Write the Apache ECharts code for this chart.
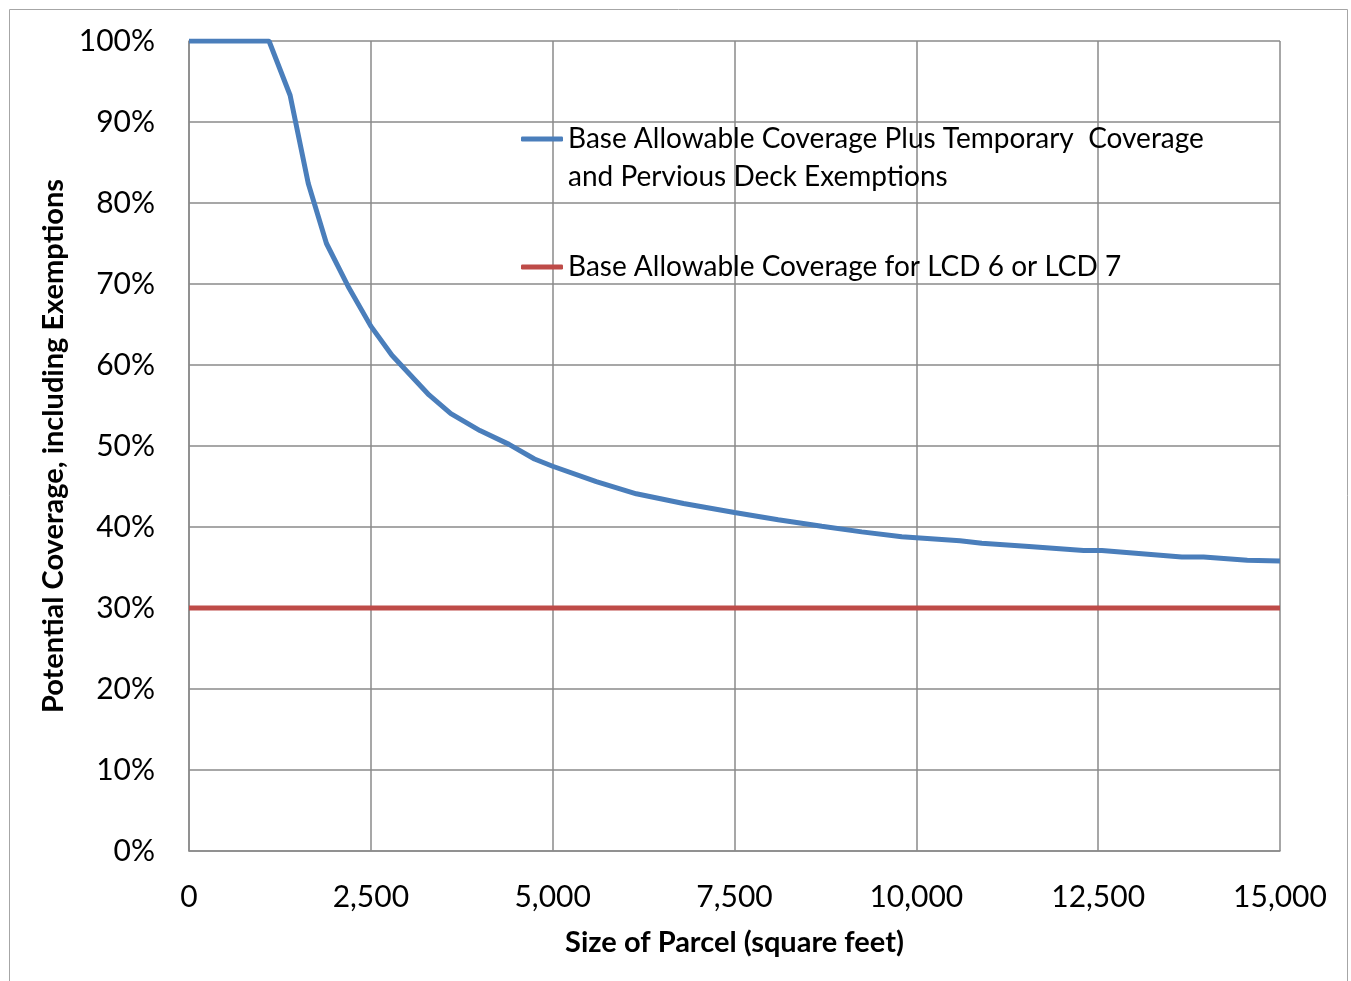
<!DOCTYPE html>
<html>
<head>
<meta charset="utf-8">
<script src="https://cdn.jsdelivr.net/npm/echarts@6/dist/echarts.min.js"></script>
<style>
  html, body { margin: 0; padding: 0; background: #ffffff; }
  #chart { width: 1351px; height: 981px; }
</style>
</head>
<body>
<div id="chart"></div>
<script>
// Parcel size (sq ft) and potential coverage (%) with exemptions
const parcelSizes = [0, 1100, 1390, 1640, 1890, 2200, 2500, 2790, 3300, 3600, 4000, 4400, 4750,
  5000, 5600, 6150, 6800, 7500, 8100, 8700, 9250, 9800, 10600, 10900, 11550, 12300, 12550,
  13650, 13950, 14550, 15000];
const coverageWithExemptions = [100, 100, 93.3, 82.4, 75.0, 69.5, 64.8, 61.2, 56.3, 54.0, 51.9, 50.2, 48.4,
  47.5, 45.6, 44.1, 42.9, 41.8, 40.9, 40.1, 39.4, 38.8, 38.3, 38.0, 37.6, 37.1, 37.1,
  36.3, 36.3, 35.9, 35.8];

// Base allowable coverage for LCD 6 / LCD 7
const baseRangeSizes = [0, 15000];
const baseCoverage = [30, 30];

const seriesNames = [
  'Base Allowable Coverage Plus Temporary  Coverage and Pervious Deck Exemptions',
  'Base Allowable Coverage for LCD 6 or LCD 7'
];
const xTicks = [0, 2500, 5000, 7500, 10000, 12500, 15000];
const yTicks = [0, 10, 20, 30, 40, 50, 60, 70, 80, 90, 100];

const FONT = 'Lato';
const gridColor = '#8a8a8a';

const chart = echarts.init(document.getElementById('chart'));

const exemptData = parcelSizes.map((x, i) => [x, coverageWithExemptions[i]]);
const baseData = baseRangeSizes.map((x, i) => [x, baseCoverage[i]]);

const legendCommon = {
  orient: 'vertical',
  left: 521,
  padding: 0,
  itemWidth: 42,
  itemHeight: 5,
  icon: 'roundRect',
  textStyle: { fontFamily: FONT, fontSize: 28, color: '#000', lineHeight: 38 }
};

chart.setOption({
  backgroundColor: '#ffffff',
  animation: false,
  graphic: [{
    type: 'rect',
    shape: { x: 9.5, y: 9.5, width: 1338, height: 1000 },
    style: { fill: 'none', stroke: '#a6a6a6', lineWidth: 1 },
    silent: true
  }],
  grid: { left: 189, top: 41, right: 71, bottom: 130, containLabel: false },
  xAxis: {
    type: 'value',
    min: xTicks[0],
    max: xTicks[xTicks.length - 1],
    interval: xTicks[1] - xTicks[0],
    name: 'Size of Parcel (square feet)',
    nameLocation: 'middle',
    nameGap: 77,
    nameTextStyle: { fontFamily: FONT, fontWeight: 'bold', fontSize: 29, color: '#000' },
    axisLine: { show: true, lineStyle: { color: gridColor, width: 1.5 } },
    axisTick: { show: false },
    axisLabel: {
      margin: 31,
      fontFamily: FONT, fontSize: 30, color: '#000',
      formatter: v => v.toLocaleString('en-US')
    },
    splitLine: { show: true, lineStyle: { color: gridColor, width: 1.5 } }
  },
  yAxis: {
    type: 'value',
    min: yTicks[0],
    max: yTicks[yTicks.length - 1],
    interval: yTicks[1] - yTicks[0],
    name: 'Potential Coverage, including Exemptions',
    nameLocation: 'middle',
    nameGap: 120,
    nameTextStyle: { fontFamily: FONT, fontWeight: 'bold', fontSize: 29, color: '#000' },
    axisLine: { show: true, lineStyle: { color: gridColor, width: 1.5 } },
    axisTick: { show: false },
    axisLabel: {
      margin: 34,
      fontFamily: FONT, fontSize: 30, color: '#000',
      formatter: v => v + '%'
    },
    splitLine: { show: true, lineStyle: { color: gridColor, width: 1.5 } }
  },
  legend: [Object.assign({}, legendCommon, {
    data: [seriesNames[0]],
    top: 82,
    // leading blank line keeps the icon level with the first text line
    formatter: () => '\nBase Allowable Coverage Plus Temporary  Coverage\nand Pervious Deck Exemptions'
  }), Object.assign({}, legendCommon, {
    data: [seriesNames[1]],
    top: 248
  })],
  series: [{
    name: seriesNames[0],
    type: 'line',
    data: exemptData,
    symbol: 'none',
    lineStyle: { color: '#4a7ebb', width: 5 },
    itemStyle: { color: '#4a7ebb' },
    z: 3
  }, {
    name: seriesNames[1],
    type: 'line',
    data: baseData,
    symbol: 'none',
    lineStyle: { color: '#be4b48', width: 5 },
    itemStyle: { color: '#be4b48' },
    z: 2
  }]
});
</script>
</body>
</html>
